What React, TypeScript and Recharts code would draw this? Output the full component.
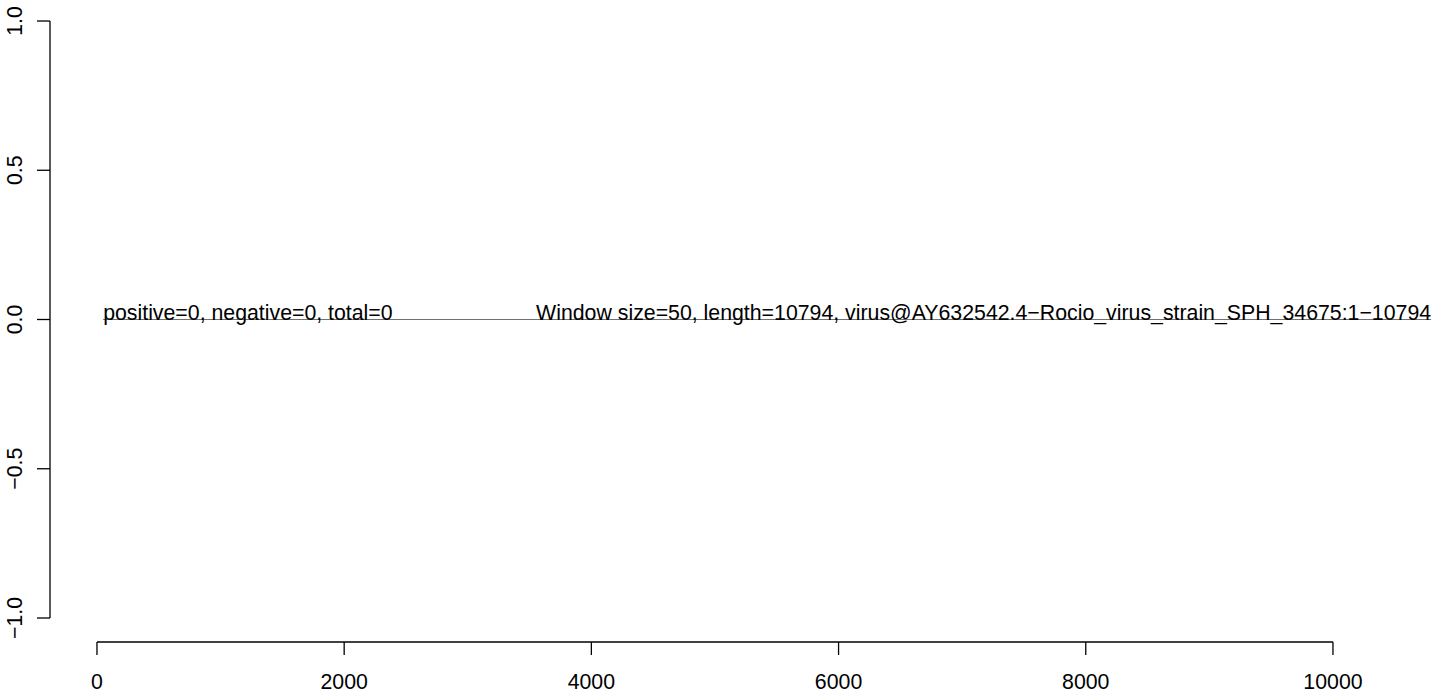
import { LineChart, Line, XAxis, YAxis, ReferenceLine, ReferenceDot } from "recharts";

// sliding-window scores along the genome (all zero here)
const POSITIONS = [50, 10794];
const SCORES = [0, 0];

const X_TICKS = [0, 2000, 4000, 6000, 8000, 10000];
const Y_TICKS = [-1, -0.5, 0, 0.5, 1];

const SUMMARY_LABEL = "positive=0, negative=0, total=0";
const INFO_LABEL =
  "Window size=50, length=10794, virus@AY632542.4\u2212Rocio_virus_strain_SPH_34675:1\u221210794";

const FONT = '"Liberation Sans", Arial, Helvetica, sans-serif';
const FONT_SIZE = 21.3;

const X_DOMAIN: [number, number] = [-380, 10866];
const Y_DOMAIN: [number, number] = [-1.0804, 1.0436];

const data = POSITIONS.map((pos, i) => ({ pos, score: SCORES[i] }));

function YTick(props: any) {
  const { x, y, payload } = props;
  const label = Number(payload.value).toFixed(1).replace("-", "\u2212");
  return (
    <text
      x={x}
      y={y}
      transform={`rotate(-90, ${x}, ${y})`}
      textAnchor="middle"
      fontSize={FONT_SIZE}
      fontFamily={FONT}
      fill="#000"
    >
      {label}
    </text>
  );
}

function XTick(props: any) {
  const { x, y, payload } = props;
  return (
    <text
      x={x}
      y={y}
      dy="0.71em"
      textAnchor="middle"
      fontSize={FONT_SIZE}
      fontFamily={FONT}
      fill="#000"
    >
      {payload.value}
    </text>
  );
}

function textLabel(text: string, anchor: "start" | "end") {
  return (props: any) => {
    const { viewBox } = props;
    const cx = viewBox.x + (viewBox.width || 0) / 2;
    const cy = viewBox.y + (viewBox.height || 0) / 2;
    return (
      <text
        x={cx}
        y={cy}
        textAnchor={anchor}
        fontSize={FONT_SIZE}
        fontFamily={FONT}
        fill="#000"
      >
        {text}
      </text>
    );
  };
}

export default function App() {
  return (
    <div style={{ position: "absolute", left: 0, top: 0, width: 1444, height: 693, background: "#fff" }}>
      <LineChart
        width={1444}
        height={693}
        data={data}
        margin={{ top: 8, right: 4, left: 0, bottom: 0 }}
      >
        <XAxis
          dataKey="pos"
          type="number"
          domain={X_DOMAIN}
          allowDataOverflow
          ticks={X_TICKS}
          interval={0}
          axisLine={false}
          tickLine={{ stroke: "#000", strokeWidth: 1.3 }}
          tickSize={13}
          tickMargin={19}
          height={51}
          tick={<XTick />}
        />
        <YAxis
          type="number"
          domain={Y_DOMAIN}
          allowDataOverflow
          ticks={Y_TICKS}
          interval={0}
          axisLine={false}
          tickLine={{ stroke: "#000", strokeWidth: 1.3 }}
          tickSize={13}
          tickMargin={15}
          width={50}
          tick={<YTick />}
        />
        <ReferenceLine
          segment={[
            { x: X_TICKS[0], y: Y_DOMAIN[0] },
            { x: X_TICKS[X_TICKS.length - 1], y: Y_DOMAIN[0] },
          ]}
          stroke="#000"
          strokeWidth={1.3}
          ifOverflow="visible"
        />
        <ReferenceLine
          segment={[
            { x: X_DOMAIN[0], y: Y_TICKS[0] },
            { x: X_DOMAIN[0], y: Y_TICKS[Y_TICKS.length - 1] },
          ]}
          stroke="#000"
          strokeWidth={1.3}
          ifOverflow="visible"
        />
        <Line
          dataKey="score"
          stroke="#707070"
          strokeWidth={1.2}
          dot={false}
          isAnimationActive={false}
        />
        <ReferenceDot
          x={POSITIONS[0]}
          y={SCORES[0]}
          r={0}
          stroke="none"
          fill="none"
          ifOverflow="visible"
          label={textLabel(SUMMARY_LABEL, "start")}
        />
        <ReferenceDot
          x={POSITIONS[POSITIONS.length - 1]}
          y={SCORES[SCORES.length - 1]}
          r={0}
          stroke="none"
          fill="none"
          ifOverflow="visible"
          label={textLabel(INFO_LABEL, "end")}
        />
      </LineChart>
    </div>
  );
}
